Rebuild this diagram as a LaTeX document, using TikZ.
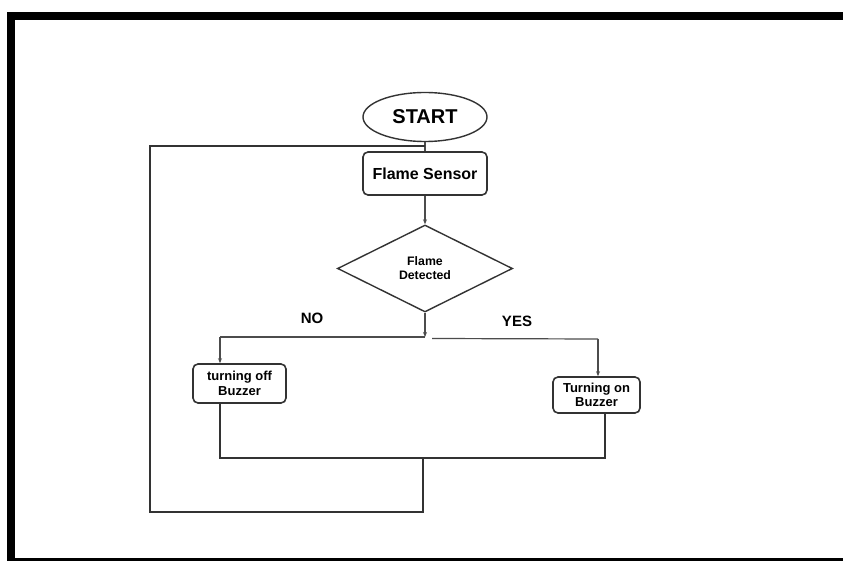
\documentclass[tikz,border=0pt]{standalone}
\usepackage{fontspec}
\setmainfont{Liberation Sans}
\usetikzlibrary{shapes.geometric,arrows.meta}
\begin{document}
\begin{tikzpicture}[x=1pt,y=-1pt,
  ink/.style={draw=black!80},
  thinline/.style={draw=black!70,line width=1.2pt},
  thickline/.style={ink,line width=2.6pt},
  arr/.style={thinline,-{Stealth[length=5pt,width=4pt]}},
  procbox/.style={ink,line width=1.6pt,rounded corners=5pt,align=center,
    font=\bfseries\fontsize{13}{14.5}\selectfont,inner sep=0pt},
  lbl/.style={font=\bfseries\fontsize{15}{17}\selectfont}]
\useasboundingbox (0,0) rectangle (843,561);
\fill[white] (0,0) rectangle (843,561);
% outer frame
\draw[line width=8pt,black] (10.5,16.5) rectangle (852,562);

% nodes
\node[ellipse,ink,line width=1.4pt,minimum width=124pt,minimum height=49pt,
  font=\bfseries\fontsize{20}{22}\selectfont] (start) at (425,117) {START};
\node[procbox,minimum width=124pt,minimum height=43pt,
  font=\bfseries\fontsize{16}{18}\selectfont] (sensor) at (425,173.5) {Flame Sensor};
\node[diamond,ink,line width=1.4pt,minimum width=175pt,minimum height=87pt,
  aspect=2,inner sep=0pt,align=center,
  font=\bfseries\fontsize{12.3}{14}\selectfont] (dec) at (425,268.5) {Flame\\Detected};
\node[procbox,minimum width=93pt,minimum height=39pt] (off) at (239.5,383.5) {turning off\\Buzzer};
\node[procbox,minimum width=87pt,minimum height=36pt] (on) at (596.5,395) {Turning on\\Buzzer};

\node[lbl] (no) at (312,318) {NO};
\node[lbl] (yes) at (517,321) {YES};

% junction points
\coordinate (split) at (425,337);
\coordinate (splitL) at (220,337);
\coordinate (splitR) at (598,339);
\coordinate (joinL) at (220,458);
\coordinate (joinR) at (605,458);
\coordinate (joinM) at (423,458);
\coordinate (loopB) at (423,512);
\coordinate (loopBL) at (150,512);
\coordinate (loopTL) at (150,146);
\coordinate (loopT) at (425,146);

% main flow
\draw[thinline] (start.south) -- (sensor.north);
\draw[arr] (sensor.south) -- (dec.north);
\draw[arr] (dec.south) -- (split);
\draw[thinline] (split) -- (splitL);
\draw[arr] (splitL) -- (off.north -| splitL);
\draw[thinline] (432,338.5) -- (splitR);
\draw[arr] (splitR) -- (on.north -| splitR);

% merge and loop back
\draw[thickline] (off.south -| joinL) -- (joinL) -- (joinR) -- (on.south -| joinR);
\draw[thickline] (joinM) -- (loopB) -- (loopBL) -- (loopTL) -- (loopT);
\end{tikzpicture}
\end{document}
